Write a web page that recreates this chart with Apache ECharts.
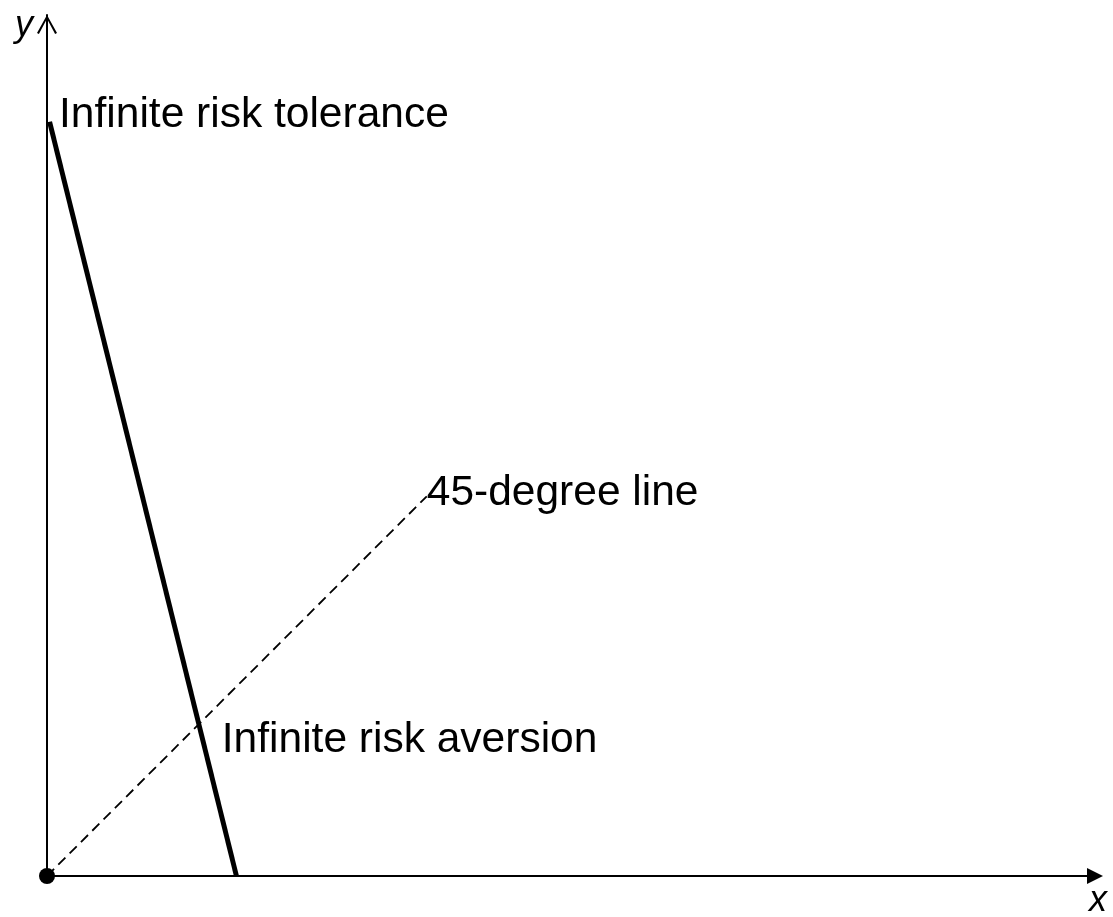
<!DOCTYPE html>
<html>
<head>
<meta charset="utf-8">
<script src="https://cdn.jsdelivr.net/npm/echarts@6/dist/echarts.min.js"></script>
<style>
html,body{margin:0;padding:0;background:#fff;}
#chart{width:1113px;height:917px;}
</style>
</head>
<body>
<div id="chart"></div>
<script>
// ---- data ----
const xRange = [0, 12.17];
const yRange = [0, 10];
const riskLineX = [0.03, 2.20];
const riskLineY = [8.76, 0];
const diagLineX = [0, 4.41];
const diagLineY = [0, 4.41];
const originPoint = [0, 0];
const labelTexts = ['Infinite risk tolerance', '45-degree line', 'Infinite risk aversion'];
const labelX = [0.14, 4.41, 2.03];
const labelY = [8.84, 4.44, 1.58];
const axisNames = ['x', 'y'];

const zip = (xs, ys) => xs.map((x, i) => [x, ys[i]]);

const chart = echarts.init(document.getElementById('chart'), null, {renderer: 'canvas'});
const FONT = '"Liberation Sans", Arial, sans-serif';

const axisCommon = {
  type: 'value',
  splitLine: {show: false},
  axisTick: {show: false},
  axisLabel: {show: false}
};

chart.setOption({
  animation: false,
  backgroundColor: '#fff',
  grid: {left: 47, top: 15, right: 18, bottom: 41, containLabel: false},
  xAxis: Object.assign({}, axisCommon, {
    min: xRange[0], max: xRange[1],
    axisLine: {show: true, onZero: true, lineStyle: {color: '#000', width: 2},
      symbol: ['none', 'path://M5,0 L10,10 L0,10 Z'], symbolSize: [16, 16]}
  }),
  yAxis: Object.assign({}, axisCommon, {
    min: yRange[0], max: yRange[1],
    axisLine: {show: true, onZero: true, lineStyle: {color: '#000', width: 2},
      symbol: ['none', 'path://M10,0 L20,18 L18.1,19 L10,3.8 L1.9,19 L0,18 Z'],
      symbolSize: [20, 19], symbolOffset: [0, -9.5]}
  }),
  graphic: [
    {type: 'text', left: 15, top: 8, style: {text: axisNames[1], font: 'italic 36px ' + FONT, fill: '#000'}},
    {type: 'text', left: 1089, top: 883, style: {text: axisNames[0], font: 'italic 36px ' + FONT, fill: '#000'}}
  ],
  series: [
    {
      type: 'line', data: zip(diagLineX, diagLineY), symbol: 'none', silent: true,
      lineStyle: {color: '#000', width: 1.8, type: [10, 6]}, z: 2
    },
    {
      type: 'line', data: zip(riskLineX, riskLineY), symbol: 'none', silent: true,
      lineStyle: {color: '#000', width: 5}, z: 3
    },
    {
      type: 'scatter', data: [originPoint], symbol: 'circle', symbolSize: 16, silent: true,
      itemStyle: {color: '#000', opacity: 1}, z: 5
    },
    {
      type: 'scatter', symbolSize: 0, silent: true, z: 4,
      itemStyle: {color: '#000', opacity: 1},
      data: labelTexts.map((t, i) => ({value: [labelX[i], labelY[i]], name: t})),
      label: {show: true, position: 'right', distance: 0, formatter: p => p.name,
        color: '#000', opacity: 1, fontSize: 42.5, fontFamily: FONT}
    }
  ]
});
</script>
</body>
</html>
